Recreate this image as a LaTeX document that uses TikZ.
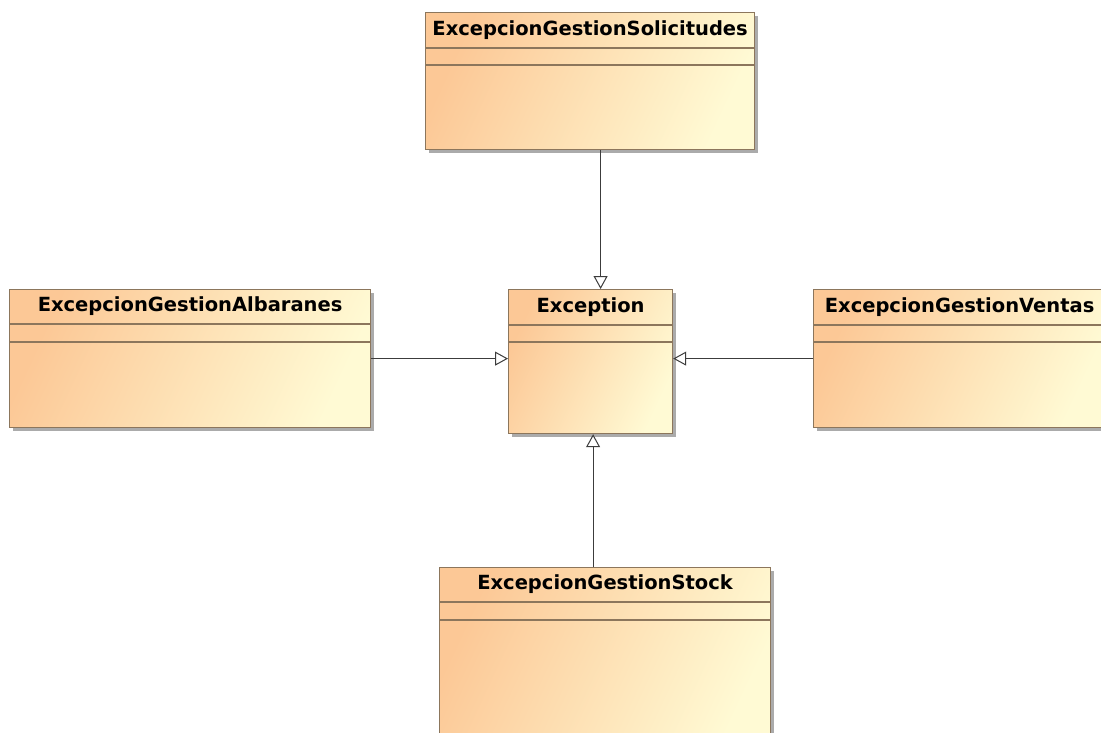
\documentclass[tikz,border=0pt]{standalone}
\usepackage{fontspec}
\setmainfont{DejaVu Sans}
\usetikzlibrary{arrows.meta,shadows}
\definecolor{boxdark}{RGB}{252,200,150}
\definecolor{boxlight}{RGB}{255,250,212}
\definecolor{boxborder}{RGB}{140,118,92}
\definecolor{shadowgray}{RGB}{150,150,150}
\definecolor{linegray}{RGB}{60,60,60}
\tikzset{
  classbox/.style={draw=boxborder, line width=1.2pt, anchor=north west, inner sep=0pt,
    left color=boxdark, right color=boxlight, shading angle=65,
    drop shadow={shadow xshift=3.5pt, shadow yshift=-3.5pt, fill=shadowgray, opacity=0.8}},
  sepline/.style={draw=boxborder, line width=1.2pt},
  classtitle/.style={font=\fontsize{19.5}{21}\selectfont\bfseries, text=black, inner sep=0pt},
  gen/.style={draw=linegray, line width=1pt, -{Triangle[open, length=13pt, width=14pt, fill=white]}}
}
\begin{document}
\begin{tikzpicture}[x=1pt,y=-1pt]
\useasboundingbox (0,0) rectangle (1101,732);
\clip (0,0) rectangle (1101,732);
\fill[white] (0,0) rectangle (1101,732);
% boxes
\node[classbox, minimum width=329pt, minimum height=137pt] (sol) at (425,12) {};
\node[classbox, minimum width=164pt, minimum height=144pt] (exc) at (508,289) {};
\node[classbox, minimum width=361pt, minimum height=138pt] (alb) at (9,289) {};
\node[classbox, minimum width=292pt, minimum height=138pt] (ven) at (813,289) {};
\node[classbox, minimum width=331pt, minimum height=180pt] (sto) at (439,567) {};
% separators
\draw[sepline] (sol.west |- 0,48) -- (sol.east |- 0,48);
\draw[sepline] (sol.west |- 0,65) -- (sol.east |- 0,65);
\draw[sepline] (exc.west |- 0,325) -- (exc.east |- 0,325);
\draw[sepline] (exc.west |- 0,342) -- (exc.east |- 0,342);
\draw[sepline] (alb.west |- 0,324) -- (alb.east |- 0,324);
\draw[sepline] (alb.west |- 0,342) -- (alb.east |- 0,342);
\draw[sepline] (ven.west |- 0,325) -- (ven.east |- 0,325);
\draw[sepline] (ven.west |- 0,342) -- (ven.east |- 0,342);
\draw[sepline] (sto.west |- 0,602) -- (sto.east |- 0,602);
\draw[sepline] (sto.west |- 0,620) -- (sto.east |- 0,620);
% titles
\node[classtitle] (solt) at ([yshift=-18pt]sol.north) {ExcepcionGestionSolicitudes};
\node[classtitle] (exct) at ([yshift=-18pt]exc.north) {Exception};
\node[classtitle] (albt) at ([yshift=-17.5pt]alb.north) {ExcepcionGestionAlbaranes};
\node[classtitle] (vent) at ([yshift=-18pt]ven.north) {ExcepcionGestionVentas};
\node[classtitle] (stot) at ([yshift=-17.5pt]sto.north) {ExcepcionGestionStock};
% generalizations
\draw[gen] ([xshift=10.5pt]sol.south) -- ([xshift=10pt]exc.north);
\draw[gen] (alb.east) -- (alb.east -| exc.west);
\draw[gen] (ven.west) -- (ven.west -| exc.east);
\draw[gen] ([xshift=2.5pt]exc.south |- sto.north) -- ([xshift=2.5pt]exc.south);
\end{tikzpicture}
\end{document}
